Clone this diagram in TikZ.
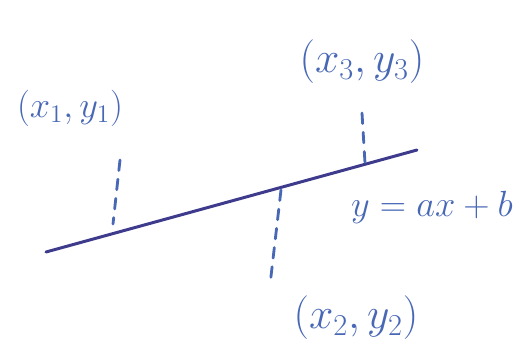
\documentclass[tikz,border=0pt]{standalone}
\definecolor{ink}{RGB}{72,104,182}
\definecolor{pen}{RGB}{62,58,140}
\begin{document}
\begin{tikzpicture}[x=0.02cm,y=-0.02cm,every node/.style={text=ink,inner sep=0pt},
  lbl/.style={font=\fontsize{24}{28}\selectfont},
  drop/.style={ink,line width=1.6pt,dash pattern=on 6pt off 5pt,line cap=round}]
  \useasboundingbox (0,0) rectangle (515,356);
  % fitted line
  \coordinate (la) at (46,252);
  \coordinate (lb) at (417,150);
  \draw[pen,line width=1.7pt,line cap=round] (la) -- (lb);
  % data points and their feet
  \coordinate (p1) at (120,160);
  \coordinate (f1) at (113,224);
  \coordinate (p2) at (270,285);
  \coordinate (f2) at (281,190);
  \coordinate (p3) at (362,113);
  \coordinate (f3) at (365,163);
  \draw[drop] (p1) -- (f1);
  \draw[drop] (f2) -- (p2);
  \draw[drop] (p3) -- (f3);
  % labels
  \node[lbl,font=\fontsize{22}{26}\selectfont] (t1) at (70,108) {$(x_1,y_1)$};
  \node[lbl,font=\fontsize{26}{30}\selectfont] (t2) at (356,318) {$(x_2,y_2)$};
  \node[lbl,font=\fontsize{26}{30}\selectfont] (t3) at (362,62) {$(x_3,y_3)$};
  \node[lbl,font=\fontsize{20}{24}\selectfont] (eq) at (432,207) {$y=ax+b$};
\end{tikzpicture}
\end{document}
